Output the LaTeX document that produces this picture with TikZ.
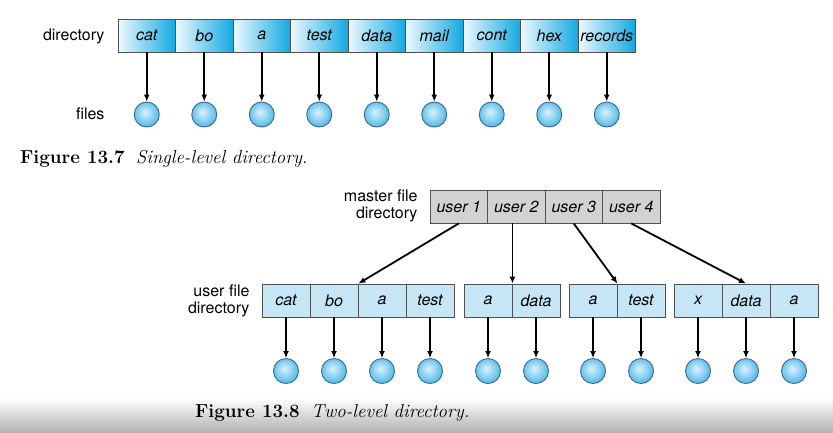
\documentclass[tikz,border=0pt]{standalone}
\usepackage{fontspec}
\setsansfont{TeX Gyre Heros}
\usetikzlibrary{arrows.meta, positioning}
\definecolor{dirblue}{HTML}{12A9E2}
\definecolor{dirlight}{HTML}{EEF9FE}
\definecolor{ufdblue}{HTML}{C6E6F5}
\definecolor{mfdgray}{HTML}{D2D2D2}
\definecolor{fileblue}{HTML}{50BAEA}
\definecolor{fileline}{HTML}{3C6A88}
\definecolor{boxline}{HTML}{505050}
\pgfdeclareradialshading{filesh}{\pgfpoint{-4bp}{5bp}}{color(0bp)=(fileblue!20!white); color(27bp)=(fileblue); color(50bp)=(fileblue)}

\tikzset{
	cell/.style={draw=boxline, line width=0.9pt, inner sep=0pt, minimum height=33pt, font=\sffamily\itshape\fontsize{16}{18}\selectfont},
	topcell/.style={cell, minimum width=57.5pt, left color=dirlight, right color=dirblue},
	mfdcell/.style={cell, minimum width=57.5pt, fill=mfdgray},
	ufdcell/.style={cell, minimum width=48pt, fill=ufdblue},
	file/.style={circle, draw=fileline, line width=0.9pt, minimum size=25pt, inner sep=0pt, shading=filesh},
	ptr/.style={-{Latex[length=7pt,width=6pt]}, line width=1.8pt},
	lbl/.style={anchor=east, align=right, font=\sffamily\fontsize{16}{17}\selectfont},
	caption/.style={anchor=base west, inner sep=0pt, font=\fontsize{18.8}{22}\selectfont}
}

\begin{document}
\begin{tikzpicture}[x=1pt, y=-1pt]
	\useasboundingbox (0,0) rectangle (833,432);
	\fill[white] (0,0) rectangle (833,432);
	\shade[top color=white, bottom color=black!30] (0,398) rectangle (833,432);

	% single-level
	\node[lbl] (dirlbl) at (108,36) {directory};
	\node[lbl] (fileslbl) at (108,114) {files};
	\foreach \n [count=\i] in {cat,bo,a,test,data,mail,cont,hex,records} {
			\node[topcell] (d\i) at ({118+57.5*(\i-0.5)},35.5) {\n};
			\node[file] (f\i) at ({118+57.5*(\i-0.5)},114.5) {};
			\draw[ptr] (d\i) -- (f\i);
		}
	\node[caption] (cap1) at (20,163) {{\bfseries Figure 13.7}\ \ {\itshape Single-level directory.}};

	% two-level
	\node[lbl] (mfdlbl) at (421,206) {master file\\directory};
	\node[lbl] (ufdlbl) at (253,301) {user file\\directory};
	\foreach \n [count=\i] in {user 1,user 2,user 3,user 4}
		\node[mfdcell] (m\i) at ({430+57.5*(\i-0.5)},206.5) {\n};
	\foreach \n/\x [count=\i] in {cat/286,bo/334,a/382,test/430,a/488,data/536,a/593,test/641,x/698,data/746,a/794} {
			\node[ufdcell] (u\i) at (\x,300.5) {\n};
			\node[file] (g\i) at (\x,371) {};
			\draw[ptr] (u\i) -- (g\i);
		}
	\draw[ptr] (m1.south) -- (u2.north east);
	\draw[ptr] (m2.south -| u5.north east) -- (u5.north east);
	\draw[ptr] (m3.south) -- (u7.north east);
	\draw[ptr] (m4.south) -- (u10.north);
	\node[caption] (cap2) at (195,417) {{\bfseries Figure 13.8}\ \ {\itshape Two-level directory.}};
\end{tikzpicture}
\end{document}
